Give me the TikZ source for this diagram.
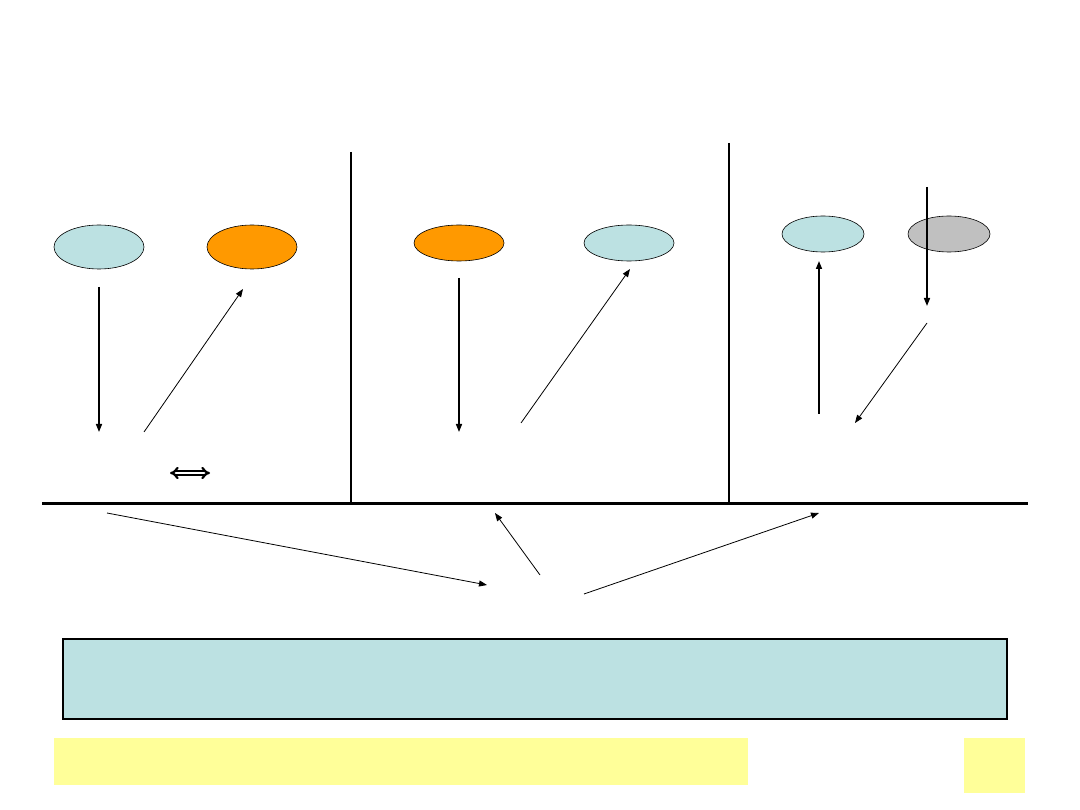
\documentclass[tikz,border=0pt]{standalone}
\usetikzlibrary{arrows.meta,shapes.geometric}
\definecolor{lcyan}{HTML}{BCE1E2}
\definecolor{lorange}{HTML}{FF9900}
\definecolor{lgray}{HTML}{C0C0C0}
\definecolor{lyellow}{HTML}{FFFF99}
\begin{document}
\begin{tikzpicture}[x=1pt,y=-1pt,
  ov/.style={ellipse,draw=black,line width=0.6pt,inner sep=0pt},
  thk/.style={line width=1.5pt,-{Triangle[length=8pt,width=6pt]}},
  thn/.style={line width=0.8pt,-{Triangle[length=8pt,width=6pt]}}]
\useasboundingbox (0,0) rectangle (1080,810);
\fill[white] (0,0) rectangle (1080,810);
% ellipses
\node[ov,fill=lcyan,minimum width=90pt,minimum height=44pt] (e1) at (99,247) {};
\node[ov,fill=lorange,minimum width=90pt,minimum height=44pt] (e2) at (252,247) {};
\node[ov,fill=lorange,minimum width=90pt,minimum height=36pt] (e3) at (459,243) {};
\node[ov,fill=lcyan,minimum width=90pt,minimum height=36pt] (e4) at (629,243) {};
\node[ov,fill=lcyan,minimum width=82pt,minimum height=36pt] (e5) at (823,234) {};
\node[ov,fill=lgray,minimum width=82pt,minimum height=36pt] (e6) at (949,234) {};
% dividers and baseline
\coordinate (d1t) at (351,152); \coordinate (d1b) at (351,503);
\coordinate (d2t) at (729,143); \coordinate (d2b) at (729,503);
\coordinate (bl) at (42,503); \coordinate (br) at (1028,503);
\draw[line width=1.5pt] (d1t) -- (d1b);
\draw[line width=1.5pt] (d2t) -- (d2b);
\draw[line width=3pt] (bl) -- (br);
% arrow endpoints
\coordinate (a1s) at (99,287); \coordinate (a1e) at (99,432);
\coordinate (a2s) at (144,432); \coordinate (a2e) at (243,289);
\coordinate (a3s) at (459,278); \coordinate (a3e) at (459,432);
\coordinate (a4s) at (521,423); \coordinate (a4e) at (630,269);
\coordinate (a5s) at (819,414); \coordinate (a5e) at (819,261);
\coordinate (a6s) at (927,187); \coordinate (a6e) at (927,306);
\coordinate (a7s) at (927,323); \coordinate (a7e) at (855,423);
\coordinate (b1s) at (107,513); \coordinate (b1e) at (487,585);
\coordinate (b2s) at (540,575); \coordinate (b2e) at (495,513);
\coordinate (b3s) at (584,594); \coordinate (b3e) at (819,513);
\draw[thk] (a1s) -- (a1e);
\draw[thn] (a2s) -- (a2e);
\draw[thk] (a3s) -- (a3e);
\draw[thn] (a4s) -- (a4e);
\draw[thk] (a5s) -- (a5e);
\draw[thk] (a6s) -- (a6e);
\draw[thn] (a7s) -- (a7e);
\draw[thn] (b1s) -- (b1e);
\draw[thn] (b2s) -- (b2e);
\draw[thn] (b3s) -- (b3e);
% double arrow
\coordinate (dl) at (170,473); \coordinate (dr) at (210,473);
\draw[line width=2.2pt,double=white,double distance=1.6pt,{Implies}-{Implies}] (dl) -- (dr);
% boxes
\node[draw=black,line width=2pt,fill=lcyan,minimum width=944pt,minimum height=80pt,inner sep=0pt] (box) at (535,679) {};
\node[fill=lyellow,minimum width=694pt,minimum height=47pt,inner sep=0pt] (y1) at (401,761.5) {};
\node[fill=lyellow,minimum width=61pt,minimum height=55pt,inner sep=0pt] (y2) at (994.5,765.5) {};
\end{tikzpicture}
\end{document}
